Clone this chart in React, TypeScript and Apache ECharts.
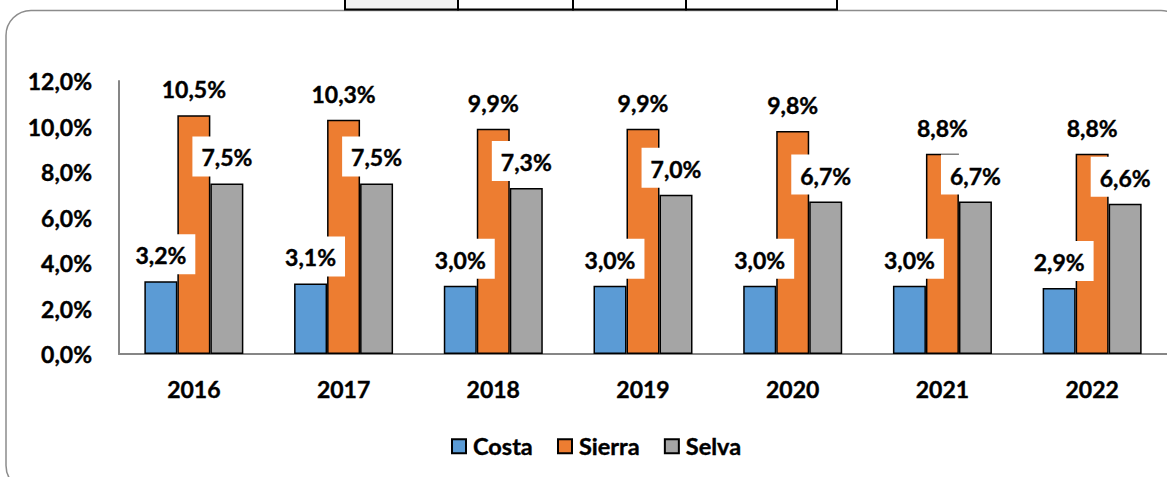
import React, { useEffect, useRef } from "react";
import * as echarts from "echarts";

const years = ["2016", "2017", "2018", "2019", "2020", "2021", "2022"];
const costa = [3.2, 3.1, 3.0, 3.0, 3.0, 3.0, 2.9];
const sierra = [10.5, 10.3, 9.9, 9.9, 9.8, 8.8, 8.8];
const selva = [7.5, 7.5, 7.3, 7.0, 6.7, 6.7, 6.6];
const seriesNames = ["Costa", "Sierra", "Selva"];
const yTicks = { min: 0, max: 12, interval: 2 };

const FONT = "Lato";
const fmt = (v: number) => v.toFixed(1).replace(".", ",") + "%";
const boldText = {
  fontFamily: FONT,
  fontWeight: "bold",
  fontSize: 23,
  color: "#000",
  textBorderColor: "#000",
  textBorderWidth: 0.4,
};

export default function App() {
  const ref = useRef<HTMLDivElement>(null);
  useEffect(() => {
    if (!ref.current) return;
    const chart = echarts.init(ref.current, undefined, { renderer: "svg" });
    const colors = ["#5b9bd5", "#ed7d31", "#a5a5a5"];
    const datasets = [costa, sierra, selva];
    const tableCells = [
      [345, 458, "#f2f2f2"],
      [458, 573, "#ffffff"],
      [573, 686, "#ffffff"],
      [686, 837, "#ffffff"],
    ] as [number, number, string][];
    chart.setOption({
      animation: false,
      textStyle: { fontFamily: FONT },
      grid: { left: 119, right: 0, top: 81, bottom: 123 },
      legend: {
        data: seriesNames,
        top: 429,
        left: 446,
        itemWidth: 14,
        itemHeight: 14,
        itemGap: 24,
        icon: "rect",
        textStyle: { ...boldText, fontSize: 23.5, padding: [0, 0, 0, 2] },
      },
      xAxis: {
        type: "category",
        data: years,
        axisLine: { lineStyle: { color: "#868686", width: 2 } },
        axisTick: { show: false },
        axisLabel: { margin: 23, ...boldText },
      },
      yAxis: {
        type: "value",
        min: yTicks.min,
        max: yTicks.max,
        interval: yTicks.interval,
        splitLine: { show: false },
        axisLine: { show: true, lineStyle: { color: "#868686", width: 2 } },
        axisTick: { show: false },
        axisLabel: {
          margin: 27,
          formatter: (v: number) => fmt(v),
          ...boldText,
        },
      },
      series: seriesNames.map((name, i) => ({
        name,
        type: "bar",
        data: datasets[i],
        barWidth: 33,
        barGap: "0%",
        itemStyle: { color: colors[i], borderColor: "#000", borderWidth: 1.5 },
        label: {
          show: true,
          position: "top",
          distance: 7,
          formatter: (p: any) => fmt(p.value),
          ...boldText,
          backgroundColor: "#fff",
          padding: [9, 9, 7, 9],
          lineHeight: 24,
        },
      })),
      graphic: [
        {
          type: "rect",
          silent: true,
          z: -10,
          shape: { x: 6, y: 10.5, width: 1180, height: 480, r: 25 },
          style: { fill: "#fff", stroke: "#8c8c8c", lineWidth: 1.5 },
        },
        ...tableCells.map(([x0, x1, fill]) => ({
          type: "rect",
          silent: true,
          z: -5,
          shape: { x: x0, y: -3, width: x1 - x0, height: 12.5 },
          style: { fill, stroke: "#000", lineWidth: 2 },
        })),
      ],
    });
    return () => chart.dispose();
  }, []);
  return (
    <div
      ref={ref}
      style={{ position: "absolute", left: 0, top: 0, width: 1167, height: 477 }}
    />
  );
}
